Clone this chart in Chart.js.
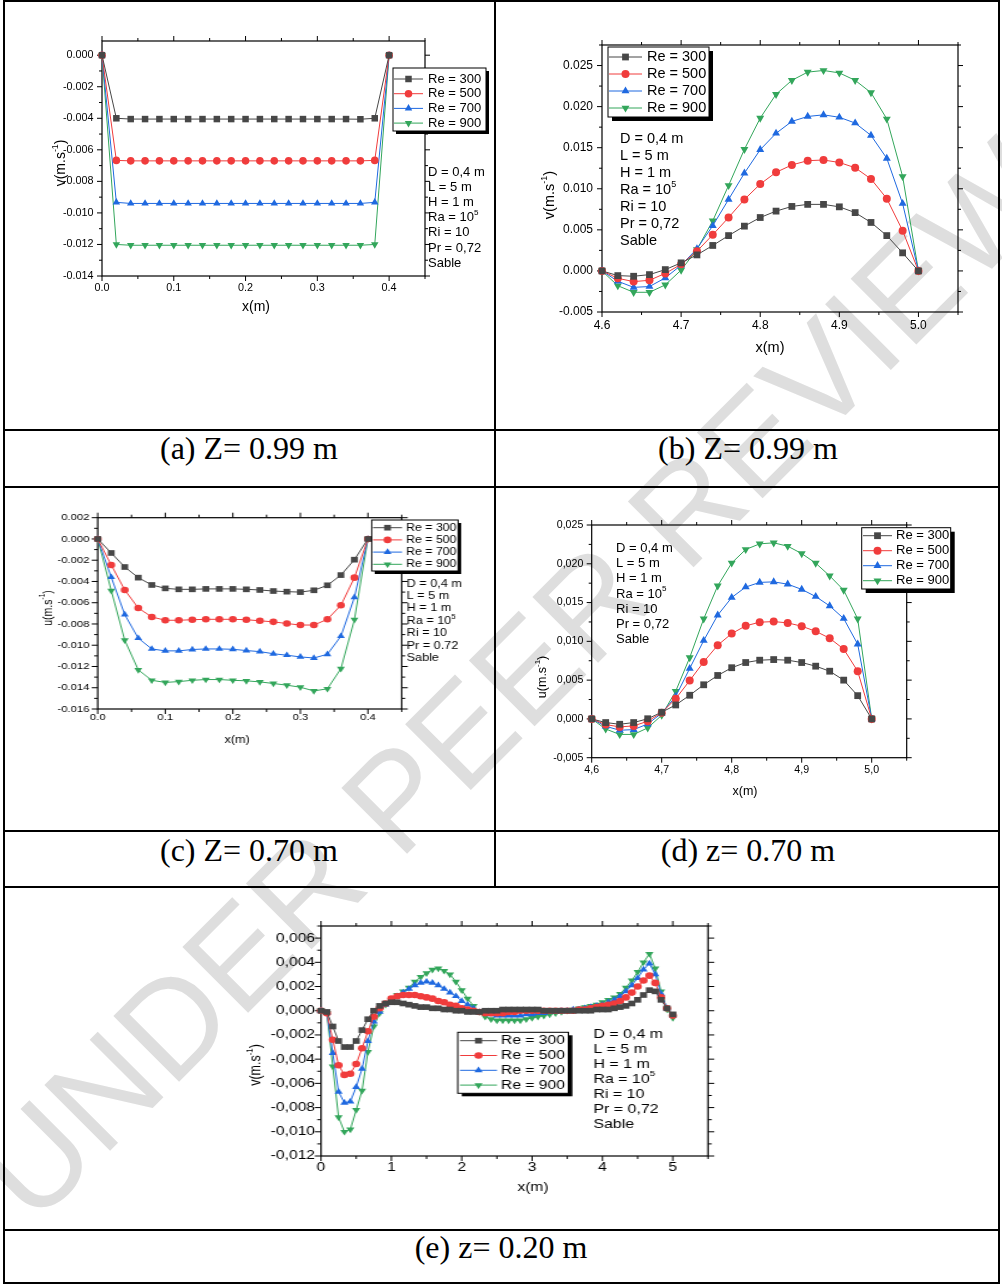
<!DOCTYPE html>
<html>
<head>
<meta charset="utf-8">
<script src="https://cdn.jsdelivr.net/npm/chart.js@4.4.1/dist/chart.umd.min.js"></script>
<style>
  body { margin: 0; background: #fff; }
  #page { position: relative; width: 1002px; height: 1286px; overflow: hidden; background: #fff; }
  .rule { position: absolute; background: #000; }
  .cap { position: absolute; width: 400px; margin-left: -200px; text-align: center;
         font-family: "Liberation Serif", "Times New Roman", serif; font-size: 32px; line-height: 32px; color: #000; }
  .mark { position: absolute; left: 515px; top: 680px; transform: translate(-50%, -50%) rotate(-45deg);
          font: 135px "Liberation Sans", Arial, sans-serif; color: #dedede; white-space: nowrap; }
  canvas { position: absolute; transform-origin: 0 0; }
</style>
</head>
<body>
<div id="page">
  <div class="mark">UNDER PEER REVIEW</div>

  <div class="rule" style="left:3px;top:0;width:997px;height:2px"></div>
  <div class="rule" style="left:3px;top:429px;width:997px;height:2px"></div>
  <div class="rule" style="left:3px;top:486px;width:997px;height:2px"></div>
  <div class="rule" style="left:3px;top:830px;width:997px;height:2px"></div>
  <div class="rule" style="left:3px;top:886px;width:997px;height:2px"></div>
  <div class="rule" style="left:3px;top:1229px;width:997px;height:2px"></div>
  <div class="rule" style="left:3px;top:1282px;width:997px;height:2px"></div>
  <div class="rule" style="left:3px;top:0;width:2px;height:1284px"></div>
  <div class="rule" style="left:998px;top:0;width:2px;height:1284px"></div>
  <div class="rule" style="left:494px;top:0;width:2px;height:888px"></div>

  <div class="cap" style="left:249px;top:432px">(a) Z= 0.99 m</div>
  <div class="cap" style="left:748px;top:432px">(b) Z= 0.99 m</div>
  <div class="cap" style="left:249px;top:834px">(c) Z= 0.70 m</div>
  <div class="cap" style="left:748px;top:834px">(d) z= 0.70 m</div>
  <div class="cap" style="left:501px;top:1231px">(e) z= 0.20 m</div>

  <canvas id="chartA" width="490" height="426" style="left:4px;top:2px"></canvas>
  <canvas id="chartB" width="501" height="426" style="left:497px;top:2px"></canvas>
  <canvas id="chartC" width="408" height="341" style="left:4px;top:489px;transform:scaleX(1.2)"></canvas>
  <canvas id="chartD" width="501" height="341" style="left:497px;top:489px"></canvas>
  <canvas id="chartE" width="796" height="340" style="left:4px;top:889px;transform:scaleX(1.25)"></canvas>
</div>

<script>
// ---- data ----
var reLabels = ['Re = 300', 'Re = 500', 'Re = 700', 'Re = 900'];
var notesComma = ['D = 0,4 m', 'L = 5 m', 'H = 1 m', 'Ra = 10{5}', 'Ri = 10', 'Pr = 0,72', 'Sable'];
var notesDot = ['D = 0,4 m', 'L = 5 m', 'H = 1 m', 'Ra = 10{5}', 'Ri = 10', 'Pr = 0.72', 'Sable'];

// (a) z = 0.99 m, v
var xA = [0, 0.02, 0.04, 0.06, 0.08, 0.1, 0.12, 0.14, 0.16, 0.18, 0.2, 0.22, 0.24, 0.26, 0.28, 0.3, 0.32, 0.34, 0.36, 0.38, 0.4];
var a300 = [0, -0.0040, -0.00405, -0.00405, -0.00405, -0.00405, -0.00405, -0.00405, -0.00405, -0.00405, -0.00405, -0.00405, -0.00405, -0.00405, -0.00405, -0.00405, -0.00405, -0.00405, -0.00406, -0.0040, 0];
var a500 = [0, -0.00667, -0.0067, -0.0067, -0.0067, -0.0067, -0.0067, -0.0067, -0.0067, -0.0067, -0.0067, -0.0067, -0.0067, -0.0067, -0.0067, -0.0067, -0.0067, -0.0067, -0.0067, -0.00667, 0];
var a700 = [0, -0.00933, -0.0094, -0.0094, -0.0094, -0.0094, -0.0094, -0.0094, -0.0094, -0.0094, -0.0094, -0.0094, -0.0094, -0.0094, -0.0094, -0.0094, -0.0094, -0.0094, -0.0094, -0.00933, 0];
var a900 = [0, -0.0120, -0.01205, -0.01205, -0.01205, -0.01205, -0.01205, -0.01205, -0.01205, -0.01205, -0.01205, -0.01205, -0.01205, -0.01205, -0.01205, -0.01205, -0.01205, -0.01205, -0.01205, -0.0120, 0];

// (b) z = 0.99 m, v near x = 5
var xB = [4.6, 4.62, 4.64, 4.66, 4.68, 4.7, 4.72, 4.74, 4.76, 4.78, 4.8, 4.82, 4.84, 4.86, 4.88, 4.9, 4.92, 4.94, 4.96, 4.98, 5.0];
var b300 = [0, -0.00057, -0.00065, -0.00045, 0.00016, 0.00098, 0.00195, 0.0031, 0.0043, 0.00545, 0.0065, 0.00728, 0.00785, 0.0081, 0.0081, 0.0078, 0.0071, 0.0059, 0.0043, 0.0022, 0];
var b500 = [0, -0.0009, -0.0013, -0.00114, -0.0003, 0.0008, 0.0024, 0.0044, 0.0065, 0.0087, 0.01057, 0.012, 0.0129, 0.01342, 0.0135, 0.0132, 0.01256, 0.0112, 0.0088, 0.0049, 0];
var b700 = [0, -0.00126, -0.002, -0.0019, -0.00085, 0.0007, 0.0027, 0.0055, 0.0087, 0.0119, 0.01476, 0.01675, 0.0182, 0.0188, 0.019, 0.0187, 0.018, 0.0165, 0.0137, 0.0082, 0];
var b900 = [0, -0.0018, -0.0026, -0.0026, -0.0017, 0.0001, 0.0026, 0.0061, 0.0104, 0.0148, 0.0186, 0.0215, 0.0232, 0.0242, 0.0244, 0.0241, 0.0232, 0.0217, 0.0185, 0.0115, 0];

// (c) z = 0.70 m, u
var xC = [0, 0.02, 0.04, 0.06, 0.08, 0.1, 0.12, 0.14, 0.16, 0.18, 0.2, 0.22, 0.24, 0.26, 0.28, 0.3, 0.32, 0.34, 0.36, 0.38, 0.4];
var c300 = [0, -0.00132, -0.00264, -0.00364, -0.00433, -0.00465, -0.00474, -0.00474, -0.0047, -0.0047, -0.0047, -0.00474, -0.0048, -0.0049, -0.00496, -0.005, -0.00483, -0.00436, -0.0034, -0.00195, 0];
var c500 = [0, -0.00245, -0.0048, -0.0065, -0.00734, -0.00765, -0.00765, -0.0076, -0.00756, -0.00756, -0.00756, -0.0076, -0.0077, -0.0078, -0.00796, -0.0081, -0.0081, -0.00756, -0.00624, -0.00364, 0];
var c700 = [0, -0.0036, -0.00712, -0.00934, -0.01035, -0.01053, -0.01053, -0.0104, -0.01035, -0.01035, -0.01038, -0.0105, -0.0106, -0.0108, -0.01094, -0.0111, -0.0112, -0.01085, -0.00915, -0.0055, 0];
var c900 = [0, -0.00486, -0.00953, -0.01232, -0.0133, -0.0135, -0.01342, -0.0133, -0.01323, -0.01323, -0.0133, -0.01335, -0.01345, -0.0136, -0.01376, -0.01395, -0.0143, -0.0141, -0.0122, -0.0076, 0];

// (d) z = 0.70 m, u near x = 5
var xD = [4.6, 4.62, 4.64, 4.66, 4.68, 4.7, 4.72, 4.74, 4.76, 4.78, 4.8, 4.82, 4.84, 4.86, 4.88, 4.9, 4.92, 4.94, 4.96, 4.98, 5.0];
var d300 = [0, -0.00047, -0.00069, -0.00047, 0.00002, 0.00086, 0.0018, 0.00305, 0.0044, 0.0056, 0.0066, 0.00727, 0.00757, 0.00765, 0.00757, 0.00727, 0.0068, 0.00615, 0.005, 0.003, 0];
var d500 = [0, -0.00073, -0.00103, -0.0009, -0.0003, 0.0008, 0.0026, 0.00494, 0.00735, 0.0095, 0.011, 0.012, 0.01247, 0.01255, 0.01238, 0.01195, 0.0113, 0.0104, 0.009, 0.00615, 0];
var d700 = [0, -0.00095, -0.00146, -0.00138, -0.00065, 0.00073, 0.0029, 0.0065, 0.0101, 0.01337, 0.01565, 0.017, 0.0176, 0.01767, 0.01737, 0.0167, 0.01578, 0.01457, 0.01294, 0.00963, 0];
var d900 = [0, -0.0013, -0.002, -0.002, -0.00116, 0.00047, 0.00357, 0.0079, 0.0129, 0.01715, 0.0201, 0.02184, 0.02257, 0.0227, 0.02227, 0.02132, 0.02008, 0.01844, 0.0166, 0.0129, 0];

// (e) z = 0.20 m, v over the whole length
var xE = [0, 0.083, 0.167, 0.25, 0.333, 0.417, 0.5, 0.583, 0.667, 0.75,
  0.833, 0.917, 1, 1.083, 1.167, 1.25, 1.333, 1.417, 1.5, 1.583,
  1.667, 1.75, 1.833, 1.917, 2, 2.083, 2.167, 2.25, 2.333, 2.417,
  2.5, 2.583, 2.667, 2.75, 2.833, 2.917, 3, 3.083, 3.167, 3.25,
  3.333, 3.417, 3.5, 3.583, 3.667, 3.75, 3.833, 3.917, 4, 4.083,
  4.167, 4.25, 4.333, 4.417, 4.5, 4.583, 4.667, 4.75, 4.833, 4.917,
  5];
var e300 = [0, -0.0001, -0.0013, -0.0025, -0.0030, -0.0030, -0.0025, -0.0016, -0.0007, 0.0000,
  0.0004, 0.0006, 0.0007, 0.0007, 0.0006, 0.0005, 0.0004, 0.0003, 0.0003, 0.0002,
  0.0002, 0.0001, 0.0001, 0.0000, 0.0000, -0.0001, -0.0001, -0.0001, 0.0000, 0.0000,
  0.0000, 0.0001, 0.0001, 0.0001, 0.0001, 0.0001, 0.0001, 0.0001, 0.0000, 0.0000,
  0.0000, 0.0000, 0.0000, 0.0000, 0.0000, 0.0000, 0.0000, 0.0001, 0.0001, 0.0001,
  0.0002, 0.0003, 0.0004, 0.0006, 0.0009, 0.0013, 0.0017, 0.0016, 0.0009, 0.0002,
  -0.0003];
var e500 = [0, -0.0002, -0.0024, -0.0045, -0.0053, -0.0052, -0.0044, -0.0031, -0.0017, -0.0005,
  0.0002, 0.0006, 0.0010, 0.0012, 0.0013, 0.0013, 0.0013, 0.0012, 0.0011, 0.0010,
  0.0008, 0.0007, 0.0005, 0.0004, 0.0002, 0.0001, 0.0000, -0.0001, -0.0002, -0.0002,
  -0.0002, -0.0002, -0.0001, -0.0001, 0.0000, 0.0000, 0.0000, 0.0000, 0.0000, 0.0000,
  0.0000, 0.0000, 0.0000, 0.0000, 0.0001, 0.0001, 0.0002, 0.0003, 0.0004, 0.0005,
  0.0006, 0.0008, 0.0011, 0.0015, 0.0020, 0.0025, 0.0029, 0.0023, 0.0011, 0.0002,
  -0.0004];
var e700 = [0, -0.0002, -0.0035, -0.0067, -0.0076, -0.0075, -0.0063, -0.0048, -0.0025, -0.0009,
  -0.0001, 0.0005, 0.0009, 0.0012, 0.0015, 0.0018, 0.0021, 0.0023, 0.0024, 0.0023,
  0.0021, 0.0018, 0.0015, 0.0012, 0.0008, 0.0005, 0.0002, -0.0001, -0.0002, -0.0003,
  -0.0004, -0.0004, -0.0004, -0.0004, -0.0004, -0.0003, -0.0003, -0.0002, -0.0002, -0.0001,
  -0.0001, 0.0000, 0.0000, 0.0001, 0.0001, 0.0002, 0.0003, 0.0004, 0.0005, 0.0007,
  0.0009, 0.0012, 0.0016, 0.0021, 0.0027, 0.0034, 0.0039, 0.0030, 0.0014, 0.0002,
  -0.0004];
var e900 = [0, -0.0002, -0.0046, -0.0088, -0.0100, -0.0098, -0.0082, -0.0066, -0.0034, -0.0013,
  -0.0002, 0.0005, 0.0009, 0.0013, 0.0016, 0.0019, 0.0024, 0.0028, 0.0031, 0.0034,
  0.0035, 0.0033, 0.0030, 0.0024, 0.0017, 0.0010, 0.0004, -0.0001, -0.0005, -0.0007,
  -0.0008, -0.0008, -0.0008, -0.0008, -0.0008, -0.0007, -0.0006, -0.0005, -0.0004, -0.0003,
  -0.0002, -0.0001, 0.0000, 0.0001, 0.0002, 0.0003, 0.0004, 0.0005, 0.0007, 0.0009,
  0.0011, 0.0014, 0.0019, 0.0025, 0.0032, 0.0040, 0.0047, 0.0035, 0.0016, 0.0001,
  -0.0006];

// ---- styles ----
var FONT = '"Liberation Sans", Arial, sans-serif';
var reColors = ['#474747', '#f03c3c', '#1f69e0', '#33a65b'];
var reStyles = ['rect', 'circle', 'triangle', 'triangle'];
var reRotations = [0, 0, 0, 180];

function fmt(v, dec, comma) {
  var s = (Math.abs(v) < 1e-12 ? 0 : v).toFixed(dec);
  return comma ? s.replace('.', ',') : s;
}

// text with {superscript} parts
function richText(ctx, text, x, y, size, align) {
  var parts = text.split(/[{}]/).map(function (t, i) { return { t: t, sup: i % 2 === 1 }; });
  var total = 0;
  parts.forEach(function (p) {
    p.size = p.sup ? size * 0.62 : size;
    ctx.font = p.size + 'px ' + FONT;
    p.w = ctx.measureText(p.t).width;
    total += p.w;
  });
  var cx = align === 'center' ? x - total / 2 : x;
  ctx.textAlign = 'left';
  ctx.textBaseline = 'middle';
  parts.forEach(function (p) {
    ctx.font = p.size + 'px ' + FONT;
    ctx.fillText(p.t, cx, p.sup ? y - size * 0.38 : y);
    cx += p.w;
  });
}

function stepValues(scale, minor) {
  var out = [];
  var n0 = Math.ceil(scale.min / minor - 1e-6);
  var n1 = Math.floor(scale.max / minor + 1e-6);
  for (var n = n0; n <= n1; n++) out.push(n * minor);
  return out;
}

function isMajor(v, step) {
  var r = v / step;
  return Math.abs(r - Math.round(r)) < 1e-6;
}

function marker(ctx, ds, x, y) {
  ctx.fillStyle = ds.backgroundColor;
  if (Chart.helpers && Chart.helpers.drawPoint) {
    Chart.helpers.drawPoint(ctx, { pointStyle: ds.pointStyle, radius: ds.pointRadius, rotation: ds.pointRotation, borderWidth: 0 }, x, y);
  } else {
    ctx.beginPath();
    ctx.arc(x, y, ds.pointRadius, 0, Math.PI * 2);
    ctx.fill();
  }
}

// Origin-like frame: box, ticks on four sides, axis titles, notes and boxed legend
var originFrame = {
  id: 'originFrame',
  beforeDatasetsDraw: function (chart, args, o) {
    var ctx = chart.ctx;
    var a = chart.chartArea;
    var xs = chart.scales.x, ys = chart.scales.y;
    ctx.save();
    ctx.strokeStyle = '#000';
    ctx.lineWidth = 1.2;
    ctx.strokeRect(a.left, a.top, a.right - a.left, a.bottom - a.top);
    ctx.lineWidth = 1;
    ctx.beginPath();
    stepValues(xs, o.minorX).forEach(function (v) {
      var px = xs.getPixelForValue(v);
      var len = isMajor(v, xs.options.ticks.stepSize) ? 5 : 3;
      ctx.moveTo(px, a.bottom); ctx.lineTo(px, a.bottom + len);
      ctx.moveTo(px, a.top); ctx.lineTo(px, a.top - len);
    });
    stepValues(ys, o.minorY).forEach(function (v) {
      var py = ys.getPixelForValue(v);
      var len = isMajor(v, ys.options.ticks.stepSize) ? 5 : 3;
      ctx.moveTo(a.left, py); ctx.lineTo(a.left - len, py);
      ctx.moveTo(a.right, py); ctx.lineTo(a.right + len, py);
    });
    ctx.stroke();

    ctx.fillStyle = '#000';
    richText(ctx, o.xTitle[2], o.xTitle[0], o.xTitle[1], o.titleSize, 'center');
    ctx.save();
    ctx.translate(o.yTitle[0], o.yTitle[1]);
    ctx.rotate(-Math.PI / 2);
    richText(ctx, o.yTitle[2], 0, 0, o.titleSize, 'center');
    ctx.restore();

    o.notes.lines.forEach(function (line, i) {
      richText(ctx, line, o.notes.x, o.notes.y0 + i * o.notes.dy, o.notes.size, 'left');
    });
    ctx.restore();
  },
  afterDatasetsDraw: function (chart, args, o) {
    var ctx = chart.ctx;
    var lg = o.legend;
    ctx.save();
    ctx.fillStyle = '#000';
    ctx.fillRect(lg.x + lg.sx, lg.y + lg.sy, lg.w, lg.h);
    ctx.fillStyle = '#fff';
    ctx.fillRect(lg.x, lg.y, lg.w, lg.h);
    ctx.strokeStyle = '#000';
    ctx.lineWidth = 1;
    ctx.strokeRect(lg.x, lg.y, lg.w, lg.h);
    chart.data.datasets.forEach(function (ds, i) {
      var y = lg.row0 + i * lg.rowH;
      ctx.strokeStyle = ds.borderColor;
      ctx.lineWidth = 1;
      ctx.beginPath();
      ctx.moveTo(lg.x1, y);
      ctx.lineTo(lg.x2, y);
      ctx.stroke();
      marker(ctx, ds, (lg.x1 + lg.x2) / 2, y);
      ctx.fillStyle = '#000';
      richText(ctx, ds.label, lg.tx, y, lg.size, 'left');
    });
    ctx.restore();
  }
};

function axis(ax, size, fit) {
  return {
    type: 'linear',
    min: ax.min,
    max: ax.max,
    grid: { display: false, drawTicks: false },
    border: { display: false },
    ticks: {
      stepSize: ax.step,
      includeBounds: false,
      autoSkip: false,
      maxRotation: 0,
      padding: ax.pad,
      color: '#000',
      font: { family: FONT, size: size },
      callback: function (v) { return fmt(v, ax.dec, ax.comma); }
    },
    afterFit: fit
  };
}

function renderOriginChart(id, spec) {
  var canvas = document.getElementById(id);
  if (!canvas) return;
  var datasets = spec.series.map(function (vals, i) {
    return {
      label: reLabels[i],
      data: spec.x.map(function (x, j) { return { x: x, y: vals[j] }; }),
      borderColor: reColors[i],
      backgroundColor: reColors[i],
      borderWidth: 1,
      pointStyle: reStyles[i],
      pointRotation: reRotations[i],
      pointRadius: spec.radius[i],
      pointBorderWidth: 0,
      tension: 0,
      clip: false
    };
  });
  new Chart(canvas, {
    type: 'line',
    data: { datasets: datasets },
    options: {
      responsive: false,
      animation: false,
      events: [],
      layout: { padding: { left: 0, top: spec.top, right: spec.right, bottom: 0 } },
      plugins: {
        legend: { display: false },
        tooltip: { enabled: false },
        originFrame: spec.frame
      },
      scales: {
        x: axis(spec.xAxis, spec.tickSize, function (s) { s.height = spec.xh; }),
        y: axis(spec.yAxis, spec.tickSize, function (s) { s.width = spec.yw; })
      }
    },
    plugins: [originFrame]
  });
}

function renderAll() {
  renderOriginChart('chartA', {
    x: xA, series: [a300, a500, a700, a900], radius: [4.6, 3.8, 4.3, 4.3],
    top: 39, right: 69, xh: 152, yw: 98, tickSize: 10.8,
    xAxis: { min: 0, max: 0.45, step: 0.1, pad: 5.5, dec: 1 },
    yAxis: { min: -0.014, max: 0.0009, step: 0.002, pad: 8.5, dec: 3 },
    frame: {
      minorX: 0.05, minorY: 0.001, titleSize: 14,
      xTitle: [252, 305, 'x(m)'], yTitle: [57, 161, 'v(m.s{-1})'],
      notes: { x: 424, y0: 170, dy: 15.2, size: 13, lines: notesComma },
      legend: { x: 389, y: 66, w: 93, h: 63, sx: 3, sy: 3, row0: 77, rowH: 14.7, x1: 390, x2: 419, tx: 424, size: 13 }
    }
  });
  renderOriginChart('chartB', {
    x: xB, series: [b300, b500, b700, b900], radius: [4.8, 4, 4.6, 4.6],
    top: 43, right: 40, xh: 116, yw: 105, tickSize: 12,
    xAxis: { min: 4.6, max: 5.05, step: 0.1, pad: 6.8, dec: 1 },
    yAxis: { min: -0.005, max: 0.0275, step: 0.005, pad: 9, dec: 3 },
    frame: {
      minorX: 0.05, minorY: 0.0025, titleSize: 14.5,
      xTitle: [273, 346, 'x(m)'], yTitle: [53, 193, 'v(m.s{-1})'],
      notes: { x: 123, y0: 137, dy: 17, size: 14.5, lines: notesComma },
      legend: { x: 111, y: 45, w: 101, h: 70, sx: 4, sy: 4, row0: 55, rowH: 17, x1: 112, x2: 145, tx: 150, size: 14.5 }
    }
  });
  renderOriginChart('chartC', {
    x: xC, series: [c300, c500, c700, c900], radius: [4, 3.3, 3.8, 3.8],
    top: 28.7, right: 76.6, xh: 121, yw: 78.1, tickSize: 9.4,
    xAxis: { min: 0, max: 0.45, step: 0.1, pad: 2.4, dec: 1 },
    yAxis: { min: -0.016, max: 0.002, step: 0.002, pad: 7, dec: 3 },
    frame: {
      minorX: 0.05, minorY: 0.001, titleSize: 10.5,
      xTitle: [194.2, 251, 'x(m)'], yTitle: [36.7, 119, 'u(m.s{-1})'],
      notes: { x: 335.6, y0: 94.7, dy: 12.4, size: 10.5, lines: notesDot },
      legend: { x: 306.4, y: 31, w: 72, h: 51, sx: 2.5, sy: 3, row0: 38.7, rowH: 12.2, x1: 307.5, x2: 331.7, tx: 335, size: 10.3 }
    }
  });
  renderOriginChart('chartD', {
    x: xD, series: [d300, d500, d700, d900], radius: [4.8, 4, 4.6, 4.6],
    top: 36, right: 91.3, xh: 72.3, yw: 94.7, tickSize: 10.6,
    xAxis: { min: 4.6, max: 5.05, step: 0.1, pad: 6, dec: 1, comma: true },
    yAxis: { min: -0.005, max: 0.025, step: 0.005, pad: 8.4, dec: 3, comma: true },
    frame: {
      minorX: 0.05, minorY: 0.0025, titleSize: 12.5,
      xTitle: [248, 303, 'x(m)'], yTitle: [46, 188, 'u(m.s{-1})'],
      notes: { x: 119, y0: 59.3, dy: 15.25, size: 13, lines: notesComma },
      legend: { x: 364.7, y: 38.7, w: 89, h: 61.3, sx: 4, sy: 4, row0: 46.7, rowH: 15, x1: 366, x2: 395, tx: 399, size: 13 }
    }
  });
  renderOriginChart('chartE', {
    x: xE, series: [e300, e500, e700, e900], radius: [4, 3.3, 3.8, 3.8],
    top: 37, right: 232.8, xh: 73, yw: 253.6, tickSize: 12.5,
    xAxis: { min: 0, max: 5.5, step: 1, pad: 4.5, dec: 0, comma: true },
    yAxis: { min: -0.012, max: 0.007, step: 0.002, pad: 4.8, dec: 3, comma: true },
    frame: {
      minorX: 0.5, minorY: 0.001, titleSize: 12.5,
      xTitle: [423.2, 299, 'x(m)'], yTitle: [202, 176, 'v(m.s{-1})'],
      notes: { x: 471.4, y0: 145, dy: 15, size: 12.8, lines: notesComma },
      legend: { x: 363, y: 143.3, w: 88.5, h: 61, sx: 3.2, sy: 3, row0: 151.7, rowH: 14.8, x1: 364.8, x2: 394.4, tx: 397.6, size: 12.5 }
    }
  });
}

renderAll();
</script>
</body>
</html>
